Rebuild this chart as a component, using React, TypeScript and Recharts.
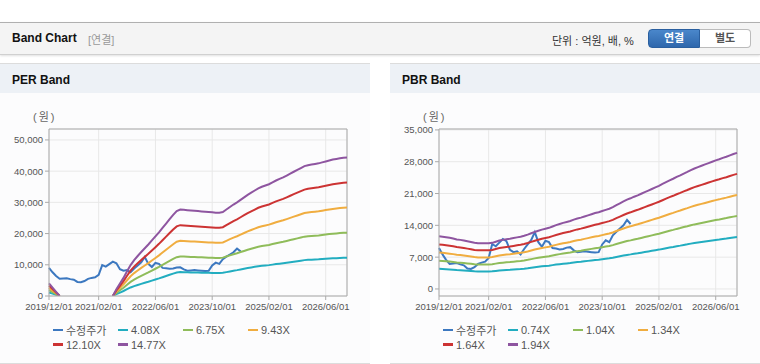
import React from 'react'
import { LineChart, Line, XAxis, YAxis, CartesianGrid, ReferenceLine } from 'recharts'

// month index 0 = 2019/12, 84 = 2026/12
const xTicks = [0, 14, 30, 46, 62, 78]
const xTickLabels = ['2019/12/01', '2021/02/01', '2022/06/01', '2023/10/01', '2025/02/01', '2026/06/01']

// 수정주가 (monthly, through 2024/06)
const price = [
  9000, 7600, 6400, 5500, 5600, 5700, 5400, 5200, 4500, 4400,
  4800, 5500, 5800, 6000, 6800, 9900, 9400, 10200, 11000, 10500,
  8600, 8100, 8300, 7600, 8800, 9800, 10800, 12500, 10300, 9300,
  10600, 10300, 9000, 8900, 8700, 8800, 9100, 9200, 8500, 8100,
  8200, 8300, 8200, 8100, 8000, 8100, 9800, 10700, 10300, 11800,
  12600, 13300, 14000, 15200, 14300,
]

// EPS used for the PER band (null = deficit, not drawn)
const perEps = [
  275, 183, 91, 0, null, null, null, null, null, null,
  null, null, null, null, null, null, null, null, 0, 149,
  271, 393, 535, 670, 779, 867, 955, 1036, 1117, 1205,
  1293, 1381, 1476, 1571, 1666, 1760, 1842, 1875, 1869, 1862,
  1855, 1848, 1842, 1835, 1828, 1821, 1815, 1808, 1808, 1821,
  1875, 1930, 1984, 2031, 2085, 2139, 2194, 2241, 2288, 2336,
  2370, 2397, 2424, 2464, 2505, 2539, 2573, 2613, 2654, 2695,
  2735, 2776, 2817, 2837, 2850, 2864, 2877, 2898, 2918, 2938,
  2959, 2972, 2986, 2999, 3006,
]

// BPS used for the PBR band
const pbrBps = [
  5979, 5928, 5876, 5799, 5722, 5619, 5567, 5490, 5412, 5335,
  5232, 5180, 5180, 5180, 5180, 5232, 5361, 5490, 5567, 5644,
  5696, 5773, 5851, 5928, 6031, 6160, 6314, 6469, 6598, 6727,
  6830, 6933, 7088, 7242, 7371, 7500, 7603, 7706, 7861, 7990,
  8093, 8222, 8351, 8479, 8608, 8711, 8840, 8969, 9098, 9278,
  9510, 9716, 9923, 10129, 10284, 10464, 10619, 10799, 10979, 11160,
  11340, 11521, 11701, 11907, 12113, 12320, 12500, 12706, 12887, 13093,
  13273, 13479, 13660, 13814, 13969, 14124, 14278, 14433, 14588, 14716,
  14871, 15000, 15155, 15309, 15438,
]

const perMultiples = [4.08, 6.75, 9.43, 12.1, 14.77]
const pbrMultiples = [0.74, 1.04, 1.34, 1.64, 1.94]

const perTicks = [0, 10000, 20000, 30000, 40000, 50000]
const pbrTicks = [0, 7000, 14000, 21000, 28000, 35000]

const PRICE_COLOR = '#3c78c0'
const BAND_COLORS = ['#22adc0', '#8fbc5a', '#f0ad40', '#cc3333', '#8e55a0']
const FONT = "'Liberation Sans', Arial, 'Noto Sans CJK KR', sans-serif"

function buildRows(base: (number | null)[], multiples: number[]) {
  return base.map((b, m) => {
    const row: Record<string, number | null> = { m, price: m < price.length ? price[m] : null }
    multiples.forEach((k, i) => {
      row['b' + i] = b == null ? null : Math.round(b * k)
    })
    return row
  })
}

interface PanelProps {
  title: string
  left: number
  base: (number | null)[]
  multiples: number[]
  yDomain: [number, number]
  yTicks: number[]
}

function BandPanel({ title, left, base, multiples, yDomain, yTicks }: PanelProps) {
  const data = buildRows(base, multiples)
  const legend = [
    { label: '수정주가', color: PRICE_COLOR },
    ...multiples.map((k, i) => ({ label: k.toFixed(2) + 'X', color: BAND_COLORS[i] })),
  ]
  return (
    <div
      style={{
        position: 'absolute',
        left,
        top: 63,
        width: 370,
        height: 299,
        background: '#fcfcfd',
        borderTop: '1px solid #dcdcdc',
        borderBottom: '1px solid #dcdcdc',
      }}
    >
      <div
        style={{
          position: 'absolute',
          left: 0,
          top: 0,
          width: 370,
          height: 29,
          background: '#edf1f6',
          fontWeight: 'bold',
          fontSize: 12,
          color: '#111',
          lineHeight: '32px',
          paddingLeft: 12,
          boxSizing: 'border-box',
        }}
      >
        {title}
      </div>
      <div style={{ position: 'absolute', left: 33, top: 44, fontSize: 11, color: '#666', letterSpacing: 2 }}>(원)</div>

      <div style={{ position: 'absolute', left: 0, top: 37 }}>
        <LineChart width={370} height={220} data={data} margin={{ top: 28, right: 23, bottom: 5, left: 4 }}>
          <CartesianGrid stroke="#e8e8e8" strokeWidth={1} />
          <XAxis
            dataKey="m"
            type="number"
            domain={[0, 84]}
            ticks={xTicks}
            tickFormatter={(v: number) => xTickLabels[xTicks.indexOf(v)]}
            interval={0}
            height={20}
            tickSize={4}
            tickMargin={3}
            tick={{ fontSize: 9.5, fill: '#555', fontFamily: FONT }}
            stroke="#aaa"
          />
          <YAxis
            type="number"
            domain={yDomain}
            ticks={yTicks}
            interval={0}
            width={45}
            tickSize={4}
            tickFormatter={(v: number) => v.toLocaleString('en-US')}
            tick={{ fontSize: 9.5, fill: '#555', fontFamily: FONT }}
            stroke="#aaa"
            allowDataOverflow
          />
          <ReferenceLine x={84} stroke="#aaa" />
          <ReferenceLine y={yDomain[1]} stroke="#aaa" />
          <Line dataKey="price" stroke={PRICE_COLOR} strokeWidth={2} dot={false} isAnimationActive={false} />
          {multiples.map((k, i) => (
            <Line
              key={k}
              dataKey={'b' + i}
              stroke={BAND_COLORS[i]}
              strokeWidth={2}
              dot={false}
              isAnimationActive={false}
            />
          ))}
        </LineChart>
      </div>

      <div style={{ position: 'absolute', left: 53, top: 259, width: 300, fontSize: 11, color: '#555' }}>
        {legend.map((item, i) => (
          <div
            key={item.label}
            style={{
              position: 'absolute',
              left: (i % 4) * 65,
              top: Math.floor(i / 4) * 14.5,
              height: 14,
              display: 'flex',
              alignItems: 'center',
              whiteSpace: 'nowrap',
            }}
          >
            <span style={{ display: 'inline-block', width: 10, height: 2.5, background: item.color, marginRight: 3 }} />
            {item.label}
          </div>
        ))}
      </div>
    </div>
  )
}

export default function App() {
  return (
    <div
      style={{
        position: 'absolute',
        left: 0,
        top: 0,
        width: 760,
        height: 364,
        background: '#fff',
        fontFamily: FONT,
        overflow: 'hidden',
      }}
    >
      <div
        style={{
          position: 'absolute',
          left: 0,
          top: 22,
          width: 760,
          height: 31,
          background: '#f4f4f4',
          borderTop: '1px solid #b0b0b0',
          borderBottom: '1px solid #d0d0d0',
          boxShadow: '0 1px 2px rgba(0,0,0,0.12)',
        }}
      >
        <span style={{ position: 'absolute', left: 12, top: 8, fontSize: 12, fontWeight: 'bold', color: '#111' }}>
          Band Chart
        </span>
        <span style={{ position: 'absolute', left: 88, top: 8, fontSize: 11, color: '#999' }}>[연결]</span>
        <span style={{ position: 'absolute', left: 552, top: 9, fontSize: 11, color: '#333' }}>단위 : 억원, 배, %</span>
        <div
          style={{
            position: 'absolute',
            left: 648,
            top: 6,
            width: 52,
            height: 19,
            background: 'linear-gradient(#4a87cb, #2e67ac)',
            border: '1px solid #2a5f9f',
            borderRadius: '4px 0 0 4px',
            boxSizing: 'border-box',
            color: '#fff',
            fontSize: 11,
            fontWeight: 'bold',
            textAlign: 'center',
            lineHeight: '17px',
          }}
        >
          연결
        </div>
        <div
          style={{
            position: 'absolute',
            left: 700,
            top: 6,
            width: 51,
            height: 19,
            background: '#fff',
            border: '1px solid #bbb',
            borderLeft: 'none',
            borderRadius: '0 4px 4px 0',
            boxSizing: 'border-box',
            color: '#555',
            fontSize: 11,
            fontWeight: 'bold',
            textAlign: 'center',
            lineHeight: '17px',
          }}
        >
          별도
        </div>
      </div>

      <BandPanel title="PER Band" left={0} base={perEps} multiples={perMultiples} yDomain={[0, 53500]} yTicks={perTicks} />
      <BandPanel title="PBR Band" left={390} base={pbrBps} multiples={pbrMultiples} yDomain={[-1550, 35200]} yTicks={pbrTicks} />
    </div>
  )
}
